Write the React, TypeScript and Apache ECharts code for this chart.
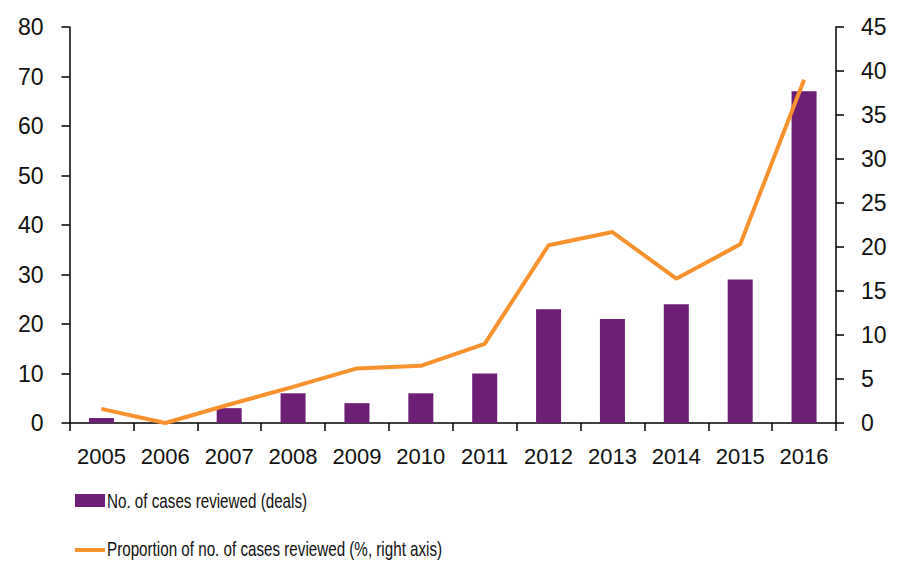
import React, { useEffect, useRef } from "react";
import * as echarts from "echarts";

const years = ["2005","2006","2007","2008","2009","2010","2011","2012","2013","2014","2015","2016"];
const casesReviewed = [1, 0, 3, 6, 4, 6, 10, 23, 21, 24, 29, 67];
const proportionReviewed = [1.6, 0, 2.1, 4.1, 6.2, 6.5, 9.0, 20.2, 21.7, 16.4, 20.3, 39.0];
const barName = "No. of cases reviewed (deals)";
const lineName = "Proportion of no. of cases reviewed (%, right axis)";

const PURPLE = "#6C1F75";
const ORANGE = "#F7922F";
const font = "'Liberation Sans', Arial, sans-serif";

export default function App() {
  const ref = useRef<HTMLDivElement>(null);
  useEffect(() => {
    if (!ref.current) return;
    const chart = echarts.init(ref.current, null, { renderer: "svg" });
    const axisLine = { show: true, lineStyle: { color: "#000", width: 1.5 } };
    const axisTick = { show: true, length: 8, lineStyle: { color: "#000", width: 1.5 } };
    chart.setOption({
      animation: false,
      grid: { left: 69.5, right: 70, top: 27, bottom: 138 },
      graphic: [
        { type: "rect", shape: { x: 75, y: 494, width: 30, height: 13 }, style: { fill: PURPLE } },
        {
          type: "text",
          x: 107,
          y: 501,
          scaleX: 0.76,
          style: { text: barName, font: `20px ${font}`, fill: "#111", textAlign: "left", textVerticalAlign: "middle" },
        },
        { type: "line", shape: { x1: 75, y1: 550, x2: 105, y2: 550 }, style: { stroke: ORANGE, lineWidth: 4 } },
        {
          type: "text",
          x: 107,
          y: 549,
          scaleX: 0.76,
          style: { text: lineName, font: `20px ${font}`, fill: "#111", textAlign: "left", textVerticalAlign: "middle" },
        },
      ],
      xAxis: {
        type: "category",
        data: years,
        boundaryGap: true,
        axisLine,
        axisTick: { ...axisTick, alignWithLabel: false },
        axisLabel: { fontFamily: font, fontSize: 22, color: "#111", margin: 22, interval: 0 },
      },
      yAxis: [
        {
          type: "value",
          min: 0,
          max: 80,
          interval: 10,
          axisLine,
          axisTick,
          splitLine: { show: false },
          axisLabel: { fontFamily: font, fontSize: 23, color: "#111", margin: 26 },
        },
        {
          type: "value",
          min: 0,
          max: 45,
          interval: 5,
          position: "right",
          axisLine,
          axisTick,
          splitLine: { show: false },
          axisLabel: { fontFamily: font, fontSize: 23, color: "#111", margin: 25 },
        },
      ],
      series: [
        {
          name: barName,
          type: "bar",
          data: casesReviewed,
          yAxisIndex: 0,
          barWidth: 25,
          itemStyle: { color: PURPLE },
        },
        {
          name: lineName,
          type: "line",
          data: proportionReviewed,
          yAxisIndex: 1,
          symbol: "none",
          lineStyle: { color: ORANGE, width: 4 },
          itemStyle: { color: ORANGE },
        },
      ],
    });
    return () => chart.dispose();
  }, []);
  return <div ref={ref} style={{ width: 906, height: 561, position: "absolute", left: 0, top: 0 }} />;
}
